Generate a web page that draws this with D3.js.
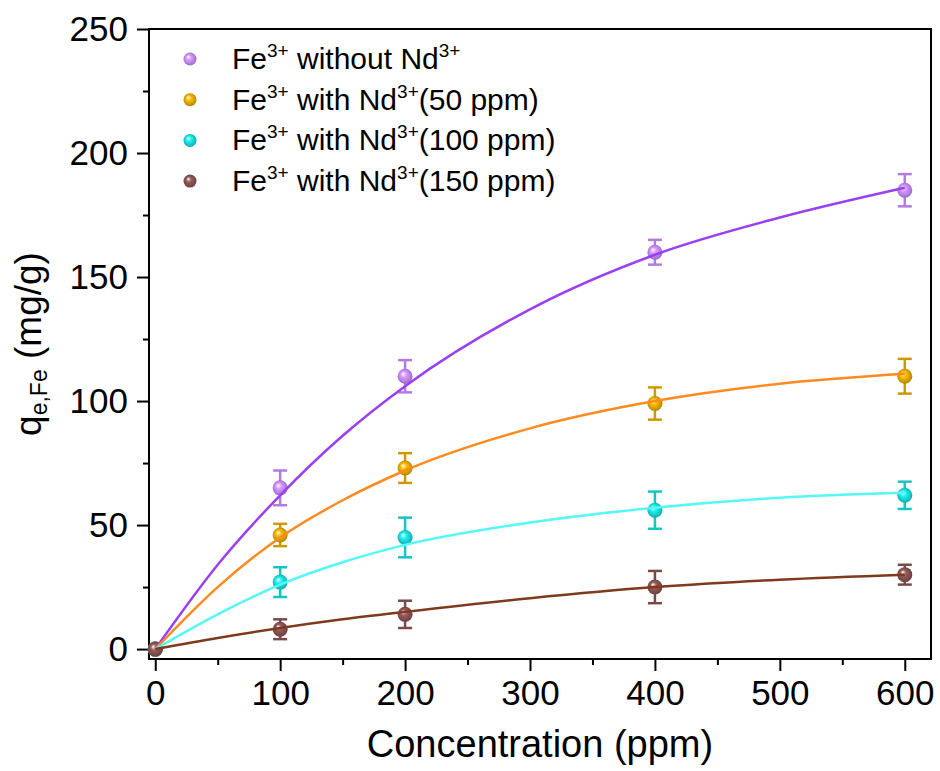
<!DOCTYPE html>
<html>
<head>
<meta charset="utf-8">
<script src="https://cdn.jsdelivr.net/npm/d3@7"></script>
<style>
  body { margin: 0; background: #fff; }
  text { font-family: "Liberation Sans", Arial, sans-serif; fill: #000; }
</style>
</head>
<body>
<div id="chart"></div>
<script>
// measured concentrations (ppm)
var conc = [0, 100, 200, 400, 600]

// q_e,Fe values and error bars (mg/g)
var noNd = [0, 65, 110, 160, 185]
var noNdErr = [0, 7, 6.5, 5, 6.5]
var nd50 = [0, 46, 73, 99, 110]
var nd50Err = [0, 4.5, 6, 6.5, 7]
var nd100 = [0, 27, 45, 56, 62]
var nd100Err = [0, 6, 8, 7.5, 5.5]
var nd150 = [0, 8, 14, 25, 30]
var nd150Err = [0, 4, 5.5, 6.5, 4]

// fitted curves, read at these x positions
var fitX = [0, 50, 100, 150, 200, 300, 400, 500, 600]
var noNdFit = [0, 34, 62, 86, 106, 137, 159, 174, 186]
var nd50Fit = [0, 25, 45, 60, 72, 89, 100, 107, 111]
var nd100Fit = [0, 14, 26, 35, 42, 51, 57, 61, 63]
var nd150Fit = [0, 4.5, 8.5, 12, 15, 20.5, 25, 28, 30]

var xTicks = [0, 100, 200, 300, 400, 500, 600]
var yTicks = [0, 50, 100, 150, 200, 250]

var series = [
    { name: "without", label: ["Fe", "3+", " without Nd", "3+", ""], y: noNd, err: noNdErr, fit: noNdFit, marker: "#b07ce0", line: "#9a40f2" },
    { name: "nd50", label: ["Fe", "3+", " with Nd", "3+", "(50 ppm)"], y: nd50, err: nd50Err, fit: nd50Fit, marker: "#cc9900", line: "#ff8a1f" },
    { name: "nd100", label: ["Fe", "3+", " with Nd", "3+", "(100 ppm)"], y: nd100, err: nd100Err, fit: nd100Fit, marker: "#16c4c4", line: "#55f7f7" },
    { name: "nd150", label: ["Fe", "3+", " with Nd", "3+", "(150 ppm)"], y: nd150, err: nd150Err, fit: nd150Fit, marker: "#7a4a4a", line: "#7f3a1c" }
]

var W = 940, H = 771
var margin = { left: 149, right: 9, top: 29, bottom: 112 }
var width = W - margin.left - margin.right
var height = H - margin.top - margin.bottom

var svg = d3.select("#chart").append("svg")
    .attr("width", W)
    .attr("height", H)

// sphere-like gradients for the markers
var defs = svg.append("defs")
series.forEach(function (s) {
    var g = defs.append("radialGradient")
        .attr("id", "ball_" + s.name)
        .attr("cx", "50%").attr("cy", "50%").attr("r", "55%")
        .attr("fx", "35%").attr("fy", "32%")
    g.append("stop").attr("offset", "0%").attr("stop-color", "#ffffff")
    g.append("stop").attr("offset", "35%").attr("stop-color", d3.color(s.marker).brighter(0.6))
    g.append("stop").attr("offset", "75%").attr("stop-color", s.marker)
    g.append("stop").attr("offset", "100%").attr("stop-color", d3.color(s.marker).darker(0.6))
})

var plot = svg.append("g")
    .attr("transform", "translate(" + margin.left + "," + margin.top + ")")

var xScale = d3.scaleLinear().domain([-5, 621]).range([0, width])
var yScale = d3.scaleLinear().domain([-4, 250]).range([height, 0])

// X axis (major + minor)
var xAxis = plot.append("g")
    .attr("transform", "translate(0," + height + ")")
    .call(d3.axisBottom(xScale).tickValues(xTicks).tickSize(12).tickPadding(8).tickFormat(d3.format("d")))
xAxis.select(".domain").remove()
xAxis.selectAll("text").style("font-size", "35px").attr("dy", "0.74em")
plot.append("g")
    .attr("transform", "translate(0," + height + ")")
    .call(d3.axisBottom(xScale).tickValues([50, 150, 250, 350, 450, 550]).tickSize(6).tickFormat(""))
    .select(".domain").remove()

// Y axis (major + minor)
var yAxis = plot.append("g")
    .call(d3.axisLeft(yScale).tickValues(yTicks).tickSize(12).tickPadding(9).tickFormat(d3.format("d")))
yAxis.select(".domain").remove()
yAxis.selectAll("text").style("font-size", "35px")
plot.append("g")
    .call(d3.axisLeft(yScale).tickValues([25, 75, 125, 175, 225]).tickSize(6).tickFormat(""))
    .select(".domain").remove()

plot.selectAll(".tick line").attr("stroke", "#000").attr("stroke-width", 2)

// frame
plot.append("rect")
    .attr("x", 0).attr("y", 0)
    .attr("width", width).attr("height", height)
    .attr("fill", "none")
    .attr("stroke", "#000")
    .attr("stroke-width", 2)

// error bars + markers
series.forEach(function (s) {
    var pts = conc.map(function (c, i) { return { x: c, y: s.y[i], e: s.err[i] } })
    var eb = plot.append("g").attr("stroke", s.marker).attr("stroke-width", 2.5)
    pts.filter(function (d) { return d.e > 0 }).forEach(function (d) {
        var cx = xScale(d.x)
        eb.append("line").attr("x1", cx).attr("x2", cx).attr("y1", yScale(d.y - d.e)).attr("y2", yScale(d.y + d.e))
        eb.append("line").attr("x1", cx - 7).attr("x2", cx + 7).attr("y1", yScale(d.y + d.e)).attr("y2", yScale(d.y + d.e))
        eb.append("line").attr("x1", cx - 7).attr("x2", cx + 7).attr("y1", yScale(d.y - d.e)).attr("y2", yScale(d.y - d.e))
    })
    plot.append("g").selectAll("circle")
        .data(pts)
        .enter()
        .append("circle")
        .attr("cx", function (d) { return xScale(d.x) })
        .attr("cy", function (d) { return yScale(d.y) })
        .attr("r", 7.5)
        .attr("fill", "url(#ball_" + s.name + ")")
})

// fitted curves on top
var line = d3.line()
    .x(function (d) { return xScale(d[0]) })
    .y(function (d) { return yScale(d[1]) })
    .curve(d3.curveMonotoneX)
series.forEach(function (s) {
    plot.append("path")
        .datum(fitX.map(function (x, i) { return [x, s.fit[i]] }))
        .attr("d", line)
        .attr("fill", "none")
        .attr("stroke", s.line)
        .attr("stroke-width", 2.5)
})

// legend
var legend = svg.append("g")
series.forEach(function (s, i) {
    var yy = 59 + i * 40.7
    legend.append("circle")
        .attr("cx", 190).attr("cy", yy).attr("r", 6.5)
        .attr("fill", "url(#ball_" + s.name + ")")
    var t = legend.append("text")
        .attr("x", 232).attr("y", yy + 10)
        .style("font-size", "30px")
    s.label.forEach(function (part, k) {
        if (part === "") return
        var sp = t.append("tspan").text(part)
        if (k % 2 === 1) {
            sp.style("font-size", "19px").attr("dy", -12)
        } else if (k > 0) {
            sp.attr("dy", 12)
        }
    })
})

// axis titles
svg.append("text")
    .attr("x", 540).attr("y", 757)
    .attr("text-anchor", "middle")
    .style("font-size", "38px")
    .text("Concentration (ppm)")

var yt = svg.append("text")
    .attr("transform", "translate(41,344) rotate(-90)")
    .attr("text-anchor", "middle")
    .style("font-size", "37px")
yt.append("tspan").text("q")
yt.append("tspan").text("e,Fe").style("font-size", "23px").attr("dy", 6)
yt.append("tspan").text(" (mg/g)").attr("dy", -6)
</script>
</body>
</html>
